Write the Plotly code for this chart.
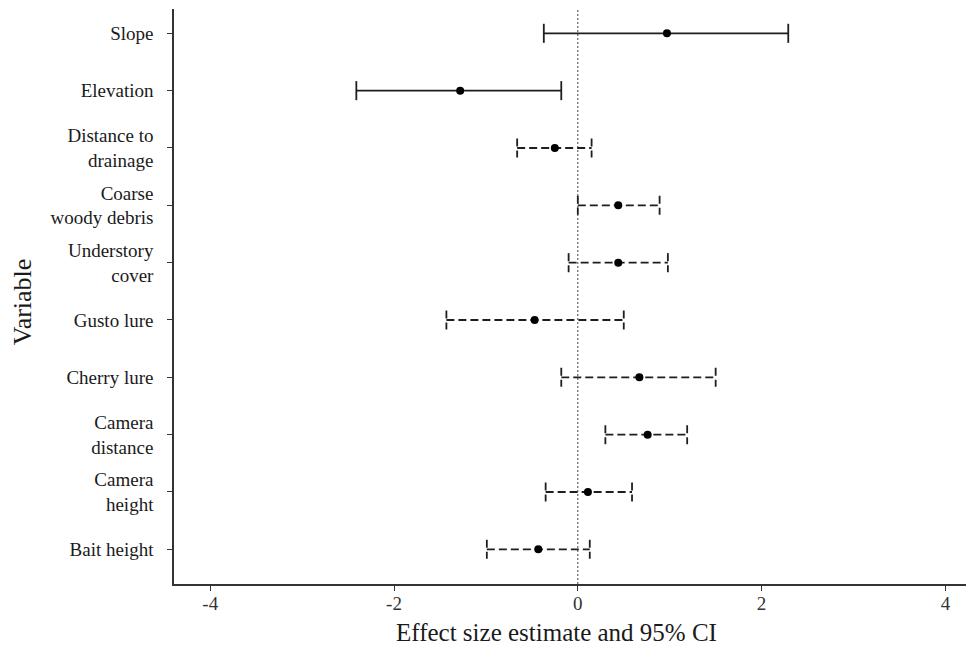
import plotly.graph_objects as go

# ---- data ----
variables = ["Slope", "Elevation", "Distance to<br>drainage", "Coarse<br>woody debris",
             "Understory<br>cover", "Gusto lure", "Cherry lure", "Camera<br>distance",
             "Camera<br>height", "Bait height"]
estimate = [0.97, -1.28, -0.25, 0.44, 0.44, -0.47, 0.67, 0.76, 0.11, -0.43]
lower = [-0.37, -2.41, -0.66, 0.00, -0.10, -1.43, -0.18, 0.30, -0.35, -0.99]
upper = [2.29, -0.18, 0.15, 0.89, 0.98, 0.50, 1.50, 1.19, 0.59, 0.13]
solid_line = [True, True, False, False, False, False, False, False, False, False]
x_ticks = [-4, -2, 0, 2, 4]

ypos = list(range(len(variables)))
cap = 0.166
serif = "Liberation Serif, Times New Roman, serif"
line_col = "#1e1e1e"

fig = go.Figure()

for style in (True, False):
    xs, ys = [], []
    for i, y in enumerate(ypos):
        if solid_line[i] != style:
            continue
        xs += [lower[i], upper[i], None, lower[i], lower[i], None, upper[i], upper[i], None]
        ys += [y, y, None, y - cap, y + cap, None, y - cap, y + cap, None]
    fig.add_trace(go.Scatter(
        x=xs, y=ys, mode="lines", hoverinfo="skip", showlegend=False,
        line=dict(color=line_col, width=1.8, dash="solid" if style else "8px,4px")))

fig.add_trace(go.Scatter(
    x=estimate, y=ypos, mode="markers", showlegend=False,
    marker=dict(color="black", size=8, line=dict(width=0))))

fig.add_shape(type="line", xref="x", yref="paper", x0=0, x1=0, y0=0, y1=1,
              line=dict(color="#444", width=1, dash="2px,2px"), layer="below")

fig.update_layout(
    width=966, height=650,
    margin=dict(l=174, r=0, t=9, b=66),
    plot_bgcolor="white", paper_bgcolor="white",
    font=dict(family=serif, color="#1a1a1a"),
    xaxis=dict(range=[-4.394, 4.224], tickvals=x_ticks, ticktext=[str(v) for v in x_ticks],
               showgrid=False, zeroline=False, showline=True, linecolor="#333", linewidth=1.5,
               ticks="outside", ticklen=5, tickwidth=1.2, tickcolor="#333",
               ticklabelstandoff=-4,
               tickfont=dict(size=19, family=serif, color="#333")),
    yaxis=dict(range=[9.605, -0.424], tickvals=ypos, ticktext=variables,
               showgrid=False, zeroline=False, showline=True, linecolor="#333", linewidth=1.5,
               ticks="outside", ticklen=5, tickwidth=1.2, tickcolor="#333",
               ticklabelstandoff=10,
               tickfont=dict(size=19, family=serif, color="#1a1a1a")),
    annotations=[
        dict(text="Effect size estimate and 95% CI", xref="paper", yref="paper",
             x=0.5, y=0, xanchor="center", yanchor="top", yshift=-33, xshift=-14,
             showarrow=False,
             font=dict(size=25, family=serif, color="#1a1a1a")),
        dict(text="Variable", xref="paper", yref="paper", x=0, y=0.49,
             xanchor="center", yanchor="middle", xshift=-152, textangle=-90, showarrow=False,
             font=dict(size=26, family=serif, color="#1a1a1a")),
    ],
)

fig.write_html("out.html")
